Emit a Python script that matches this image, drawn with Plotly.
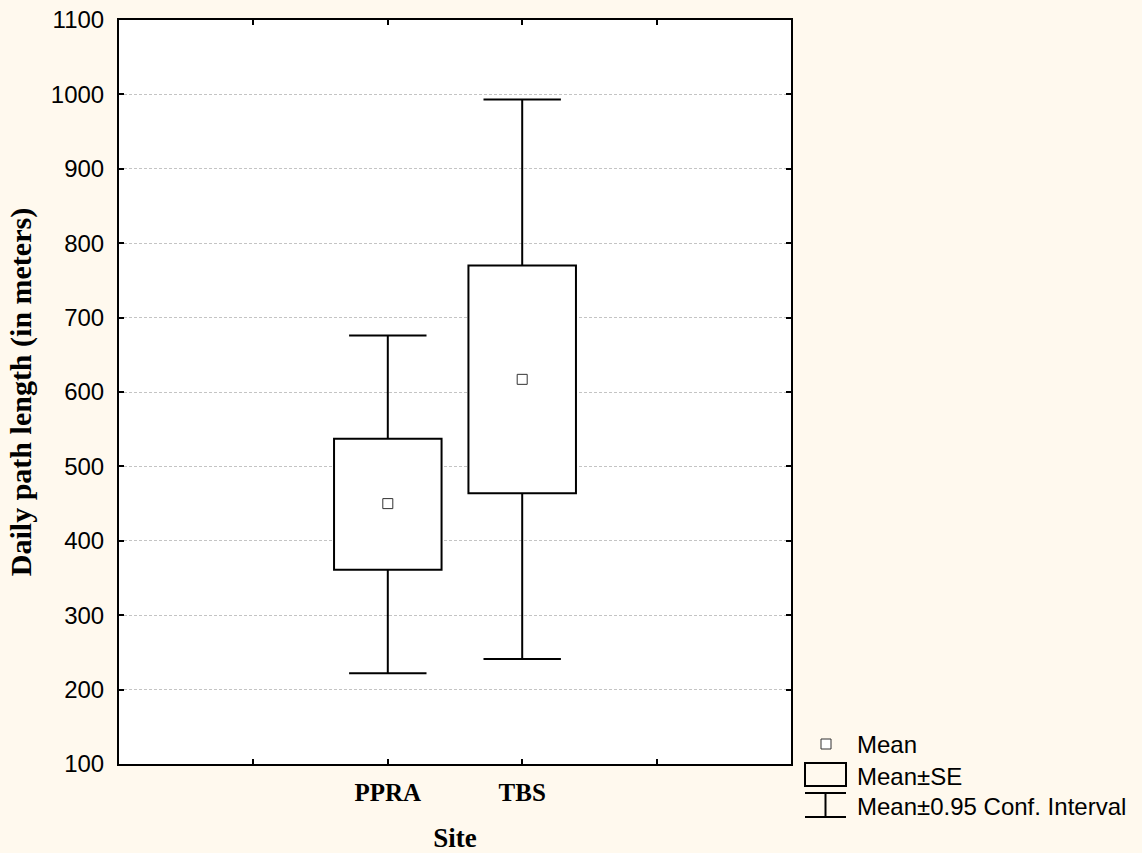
import plotly.graph_objects as go

# ---- data ----
categories = ["PPRA", "TBS"]
mean_vals = [450, 617]
se_low = [361, 464]
se_high = [537, 770]
ci_low = [222, 241]
ci_high = [676, 993]

y_ticks = [100, 200, 300, 400, 500, 600, 700, 800, 900, 1000, 1100]

# ---- layout geometry ----
W, H = 1142, 853
L, R, T, B = 119, 351, 20, 89
plot_w = W - L - R
plot_h = H - T - B
x_positions = list(range(len(categories)))  # category index positions
x_range = [-2, 3]
box_width = 0.8
cap_half = 0.288

SERIF = "Liberation Serif, Times New Roman, serif"
SANS = "Liberation Sans, Arial, sans-serif"

fig = go.Figure()

# Mean±SE boxes
fig.add_trace(go.Bar(
    x=x_positions,
    y=[h - l for h, l in zip(se_high, se_low)],
    base=se_low,
    width=box_width,
    marker=dict(color="white", line=dict(color="black", width=2)),
    showlegend=False,
    hoverinfo="skip",
))

# Whiskers (CI) outside the boxes
wx, wy = [], []
for xi, sl, sh, cl, ch in zip(x_positions, se_low, se_high, ci_low, ci_high):
    wx += [xi, xi, None, xi - cap_half, xi + cap_half, None,
           xi, xi, None, xi - cap_half, xi + cap_half, None]
    wy += [sh, ch, None, ch, ch, None, sl, cl, None, cl, cl, None]
fig.add_trace(go.Scatter(
    x=wx, y=wy, mode="lines",
    line=dict(color="black", width=2),
    showlegend=False, hoverinfo="skip",
))

# Means
fig.add_trace(go.Scatter(
    x=x_positions, y=mean_vals, mode="markers",
    marker=dict(symbol="square", size=10, color="white",
                line=dict(color="#333333", width=1)),
    showlegend=False,
))

# ---- custom legend (glyphs + labels), positioned in pixels ----
def px(xp):
    return (xp - L) / plot_w


def py(yp):
    return (H - B - yp) / plot_h


shapes = []
# Mean glyph
shapes.append(dict(type="rect", xref="paper", yref="paper",
                   x0=px(821), x1=px(831), y0=py(749), y1=py(739),
                   line=dict(color="#333333", width=1), fillcolor="white"))
# SE glyph
shapes.append(dict(type="rect", xref="paper", yref="paper",
                   x0=px(805), x1=px(846), y0=py(786), y1=py(763),
                   line=dict(color="black", width=2), fillcolor="rgba(0,0,0,0)"))
# CI glyph
for y0, y1, x0, x1 in [(793, 793, 805, 846), (817, 817, 805, 846), (793, 817, 825.5, 825.5)]:
    shapes.append(dict(type="line", xref="paper", yref="paper",
                       x0=px(x0), x1=px(x1), y0=py(y0), y1=py(y1),
                       line=dict(color="black", width=2)))

legend_labels = ["Mean", "Mean±SE", "Mean±0.95 Conf. Interval"]
legend_y = [744, 776, 806]
annotations = []
for lab, yy in zip(legend_labels, legend_y):
    annotations.append(dict(text=lab, xref="paper", yref="paper",
                            x=px(855), y=py(yy), xanchor="left", yanchor="middle",
                            showarrow=False, font=dict(family=SANS, size=24, color="black")))

fig.update_layout(
    width=W, height=H,
    margin=dict(l=L, r=R, t=T, b=B, autoexpand=False),
    paper_bgcolor="#FFF9EE",
    plot_bgcolor="white",
    shapes=shapes,
    annotations=annotations,
    showlegend=False,
    xaxis=dict(
        range=x_range,
        tickmode="array",
        tickvals=list(range(x_range[0], x_range[1] + 1)),
        ticktext=["", ""] + [f"<b>{c}</b>" for c in categories] + ["", ""],
        ticks="inside", ticklen=5, tickwidth=1.5, tickcolor="black",
        showline=True, linecolor="black", linewidth=2, mirror="ticks",
        showgrid=False, zeroline=False,
        tickfont=dict(family=SERIF, size=25, color="black"),
        ticklabelstandoff=5,
        title=dict(text="<b>Site</b>", font=dict(family=SERIF, size=27, color="black"), standoff=23),
        fixedrange=True,
    ),
    yaxis=dict(
        range=[y_ticks[0], y_ticks[-1]],
        tickmode="array", tickvals=y_ticks,
        ticks="inside", ticklen=5, tickwidth=1.5, tickcolor="black",
        showline=True, linecolor="black", linewidth=2, mirror="ticks",
        showgrid=True, gridcolor="#C4C4C4", gridwidth=1, griddash="3px,2px",
        zeroline=False,
        tickfont=dict(family=SANS, size=24, color="black"),
        ticklabelstandoff=8,
        title=dict(text="<b>Daily path length (in meters)</b>",
                   font=dict(family=SERIF, size=30, color="black"), standoff=10),
        fixedrange=True,
    ),
)

fig.write_html("out.html")
